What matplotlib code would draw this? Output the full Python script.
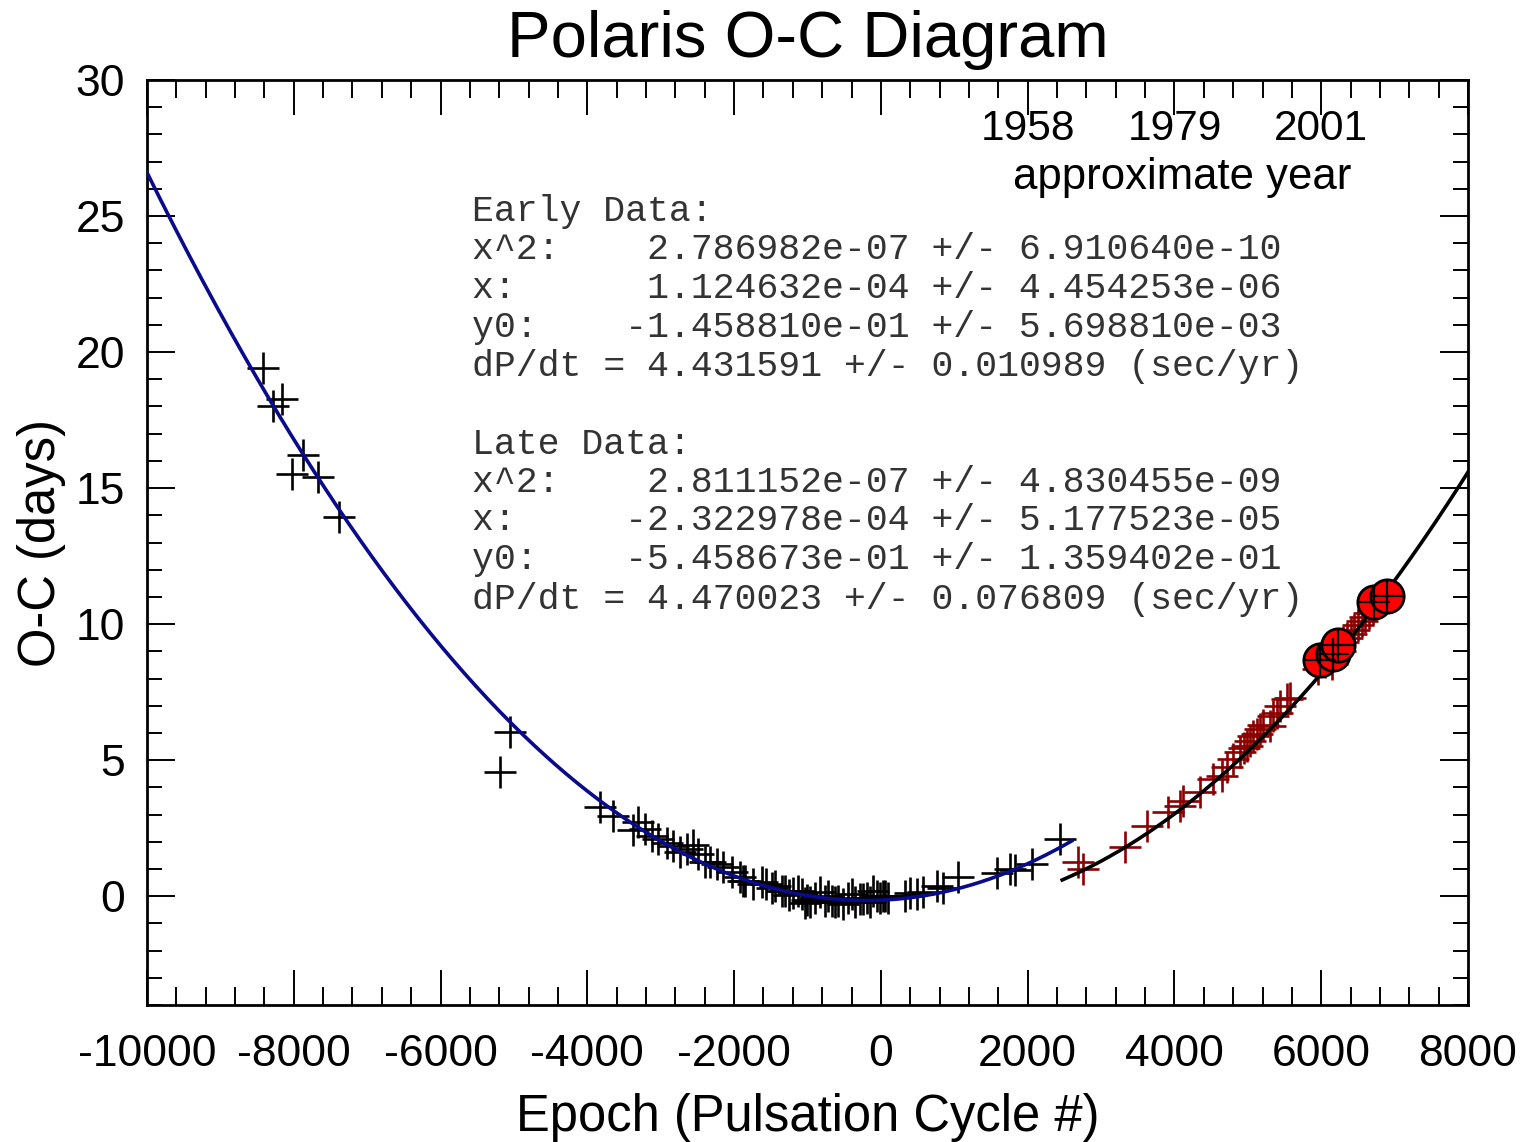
import numpy as np
import matplotlib
matplotlib.use("Agg")
import matplotlib.pyplot as plt
from matplotlib.ticker import MultipleLocator

# ---------------- data ----------------
early_epoch = [-8419, -8283, -8160, -8024, -7874, -7670, -7384, -5190, -5054,
               -3827, -3646, -3373, -3305, -3214, -3123, -3033, -2919, -2828,
               -2737, -2646, -2556, -2488, -2397, -2329, -2238, -2147, -2033,
               -1920, -1874, -1852, -1739, -1624, -1560, -1488, -1443, -1352,
               -1307, -1250, -1193, -1125, -1080, -1040, -1011, -966, -898,
               -830, -762, -717, -671, -625, -580, -512, -444, -398, -353,
               -285, -240, -194, -149, -104, -58, -12, 33, 56, 101, 328, 397,
               488, 578, 760, 851, 1055, 1578, 1759, 1827, 2055, 2441]
early_oc = [19.43, 18.00, 18.29, 15.50, 16.23, 15.39, 13.92, 4.55, 6.02,
            3.26, 2.93, 2.44, 2.71, 2.46, 2.21, 2.09, 1.97, 1.85,
            1.64, 1.73, 1.87, 1.54, 1.26, 1.26, 1.18, 1.09, 0.89,
            0.69, 0.56, 0.56, 0.44, 0.53, 0.45, 0.29, 0.38, 0.20,
            0.20, 0.05, 0.13, 0.20, 0.07, -0.25, -0.14, -0.23, -0.05,
            0.16, -0.17, 0.01, -0.17, -0.23, -0.17, -0.29, -0.05, 0.07, -0.23,
            -0.11, -0.11, -0.05, -0.23, 0.20, 0.01, -0.05, 0.01, 0.01, -0.05, -0.01, 0.11,
            0.07, 0.14, 0.36, 0.29, 0.69, 0.87, 1.01, 0.97, 1.18, 2.12]

late_epoch = [2686, 2754, 3326, 3626, 3912, 4076, 4117, 4348, 4525, 4648, 4716,
              4798, 4893, 4950, 4989, 5030, 5071, 5120, 5166, 5210, 5302, 5343,
              5400, 5439, 5534, 5575, 5950, 6050, 6100, 6150, 6250, 6300, 6350,
              6400, 6450, 6500, 6550, 6600, 6650, 6700, 6780, 6850]
late_oc = [1.25, 0.99, 1.80, 2.57, 3.08, 3.30, 3.49, 3.82, 4.30, 4.41, 4.74,
           5.03, 5.29, 5.45, 5.51, 5.70, 5.88, 5.95, 6.13, 6.30, 6.24, 6.61,
           6.75, 6.98, 7.23, 7.30, 8.35, 8.60, 8.75, 8.55, 9.00, 9.35, 9.50,
           9.65, 9.80, 9.95, 10.10, 10.25, 10.40, 10.55, 10.85, 10.95]

recent_epoch = [5983, 6161, 6229, 6719, 6896]
recent_oc = [8.67, 8.89, 9.25, 10.83, 11.02]

# fit coefficients (x^2, x, y0) as printed on the chart
early_coef = [2.786982e-07, 1.124632e-04, -1.458810e-01]
late_coef = [2.811152e-07, -2.322978e-04, -5.458673e-01]
early_range = [-10000, 2600]
late_range = [2470, 8000]

x_ticks = [-10000, -8000, -6000, -4000, -2000, 0, 2000, 4000, 6000, 8000]
x_ticklabels = ["-10000", "-8000", "-6000", "-4000", "-2000", "0", "2000", "4000", "6000", "8000"]
y_ticks = [0, 5, 10, 15, 20, 25, 30]
y_ticklabels = ["0", "5", "10", "15", "20", "25", "30"]

year_epochs = [2000, 4000, 6000]
year_labels = ["1958", "1979", "2001"]

fit_text_lines = [
    "Early Data:",
    "x^2:    2.786982e-07 +/- 6.910640e-10",
    "x:      1.124632e-04 +/- 4.454253e-06",
    "y0:    -1.458810e-01 +/- 5.698810e-03",
    "dP/dt = 4.431591 +/- 0.010989 (sec/yr)",
    "",
    "Late Data:",
    "x^2:    2.811152e-07 +/- 4.830455e-09",
    "x:     -2.322978e-04 +/- 5.177523e-05",
    "y0:    -5.458673e-01 +/- 1.359402e-01",
    "dP/dt = 4.470023 +/- 0.076809 (sec/yr)",
]

# ---------------- figure ----------------
W, H = 1522, 1142
fig = plt.figure(figsize=(W / 100, H / 100), dpi=100)
sans = ["Liberation Sans", "DejaVu Sans"]
mono = ["Liberation Mono", "DejaVu Sans Mono"]

ax = fig.add_axes([147 / W, 1 - 1005 / H, 1321 / W, 925 / H])
ax.set_xlim(-10000, 8000)
ax.set_ylim(-4, 30)

# fit curves
xe = np.linspace(early_range[0], early_range[1], 400)
ax.plot(xe, np.polyval(early_coef, xe), color="#0a0a8c", lw=2.6, zorder=3)
xl = np.linspace(late_range[0], late_range[1], 300)
ax.plot(xl, np.polyval(late_coef, xl), color="black", lw=2.6, zorder=3)

# data points
ax.plot(early_epoch, early_oc, ls="none", marker="+", ms=23, mew=1.9, color="black", zorder=2)
ax.plot(late_epoch, late_oc, ls="none", marker="+", ms=23, mew=1.9, color="#8b0000", zorder=2)
ax.plot(recent_epoch, recent_oc, ls="none", marker="o", ms=24, mfc="#ff0000", mec="black", mew=2, zorder=4)
ax.plot(recent_epoch, recent_oc, ls="none", marker="+", ms=23, mew=1.6, color="black", zorder=5)

# ticks
ax.set_xticks(x_ticks)
ax.set_xticklabels(x_ticklabels, fontfamily=sans, fontsize=32)
ax.set_yticks(y_ticks)
ax.set_yticklabels(y_ticklabels, fontfamily=sans, fontsize=32)
ax.xaxis.set_minor_locator(MultipleLocator(400))
ax.yaxis.set_minor_locator(MultipleLocator(1))
ax.tick_params(axis="x", which="major", direction="in", length=25, width=1.4,
               top=True, bottom=True, pad=21)
ax.tick_params(axis="x", which="minor", direction="in", length=13, width=1.4,
               top=True, bottom=True)
ax.tick_params(axis="y", which="major", direction="in", length=20, width=1.4,
               left=True, right=True, pad=16)
ax.tick_params(axis="y", which="minor", direction="in", length=11, width=1.4,
               left=True, right=True)
for s in ax.spines.values():
    s.set_linewidth(2.0)

# labels
fig.text(808 / W, 1 - 40 / H, "Polaris O-C Diagram", fontfamily=sans, fontsize=47,
         ha="center", va="center")
fig.text(808 / W, 1 - 1117 / H, "Epoch (Pulsation Cycle #)", fontfamily=sans, fontsize=36.5,
         ha="center", va="center")
fig.text(42 / W, 1 - 543 / H, "O-C (days)", fontfamily=sans, fontsize=36.5,
         ha="center", va="center", rotation=90)

# year labels
for ep, lab in zip(year_epochs, year_labels):
    ax.text(ep, 28.2, lab, fontfamily=sans, fontsize=30.5, ha="center", va="center")
fig.text(1182 / W, 1 - 178 / H, "approximate year", fontfamily=sans, fontsize=31.5,
         ha="center", va="center")

# fit text
baselines = [221, 259, 298, 337, 376, 415, 454, 492, 530, 569, 609]
for line, yb in zip(fit_text_lines, baselines):
    if line:
        fig.text(472 / W, 1 - yb / H, line, fontfamily=mono, fontsize=26.3,
                 ha="left", va="baseline", color="#333333")

fig.savefig("out.png", dpi=100)
